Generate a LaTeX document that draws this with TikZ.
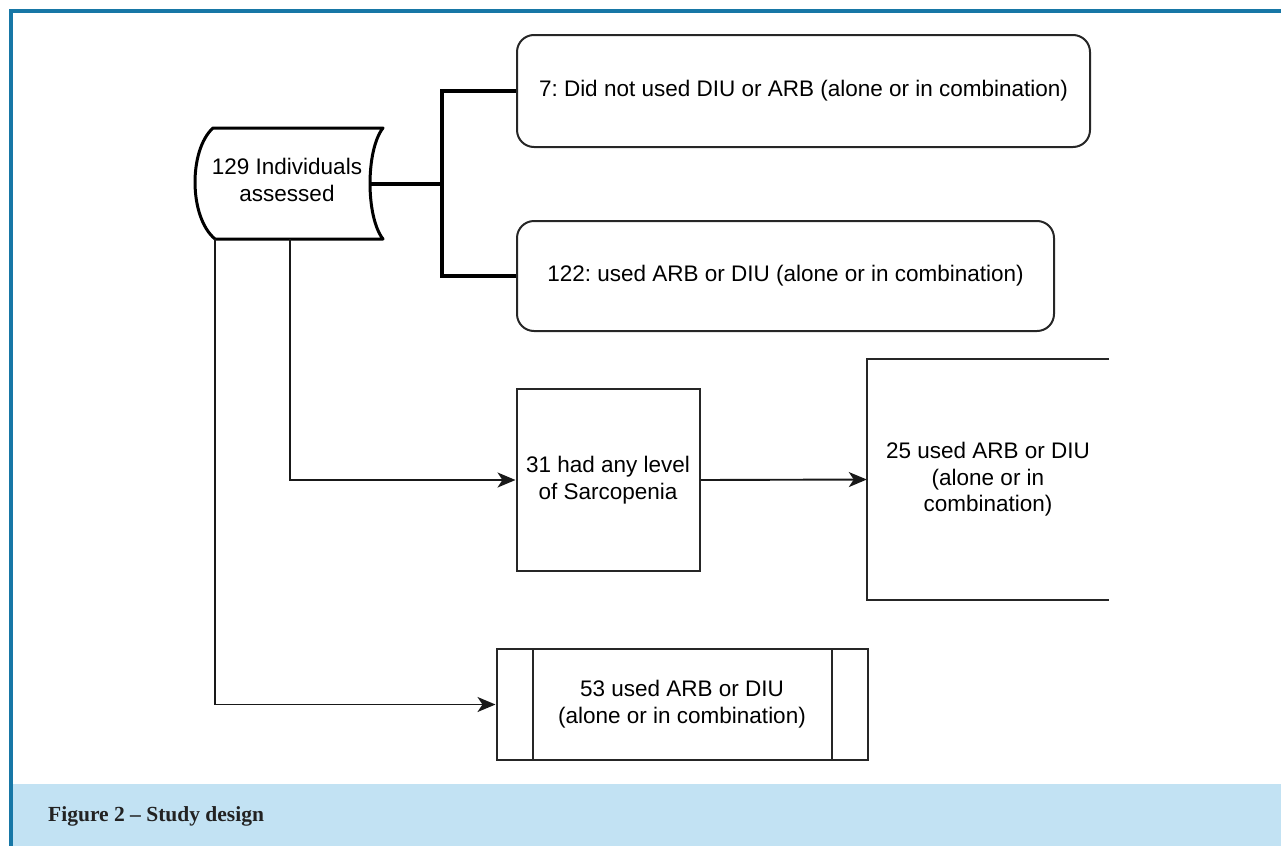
\documentclass[tikz,border=0pt]{standalone}
\usepackage{fontspec}
\setmainfont{Liberation Sans}
\newfontfamily\capfont{Liberation Serif}
\usetikzlibrary{arrows.meta,calc}
\definecolor{frameblue}{HTML}{1777A6}
\definecolor{capband}{HTML}{C2E2F3}
\definecolor{captext}{HTML}{222222}
\frenchspacing
\tikzset{
  box/.style={draw=black!85, line width=2pt, inner sep=0pt, align=center, font=\fontsize{22.5}{27}\selectfont},
  rbox/.style={box, rounded corners=17pt},
  lab/.style={inner sep=0pt, align=center, font=\fontsize{22.5}{26.5}\selectfont},
  link/.style={line width=3.2pt, black},
  conn/.style={line width=1.9pt, black!90, -{Stealth[length=18pt,width=15pt,inset=5pt]}},
}
\begin{document}
\begin{tikzpicture}[x=1pt,y=-1pt]
\useasboundingbox (0,0) rectangle (1281,846);
% frame and caption band
\fill[capband] (11,784) rectangle (1281,846);
\fill[frameblue] (9,9) rectangle (1281,12.5);
\fill[frameblue] (9,9) rectangle (12.5,846);
\node[anchor=base west, inner sep=0pt, text=captext, font=\capfont\bfseries\fontsize{21.5}{24}\selectfont] (cap) at (48,821) {Figure 2 – Study design};

% stored data shape
\coordinate (stl) at (213,128);
\coordinate (str) at (383,128);
\coordinate (sbr) at (383,239);
\coordinate (sbl) at (215,239);
\draw[line width=3pt, black, fill=white, line join=round]
  (stl) -- (str) .. controls (365.7,150) and (365.7,217) .. (sbr)
  -- (sbl) .. controls (188.7,217) and (188.7,150) .. (stl) -- cycle;
\node[lab] (s) at (287,180) {129 Individuals\\assessed};
\coordinate (sr) at (370,184);
\coordinate (sb1) at (215,239);
\coordinate (sb2) at (290,239);

% boxes
\node[rbox, minimum width=573pt, minimum height=112pt] (b1) at (803.5,91) {7: Did not used DIU or ARB (alone or in combination)};
\node[rbox, minimum width=537pt, minimum height=110pt] (b2) at (785.5,276) {122: used ARB or DIU (alone or in combination)};
\node[box, minimum width=183pt, minimum height=182pt] (b3) at (608,480) {31 had any level\\of Sarcopenia};
\node[lab, minimum width=242pt, minimum height=241pt] (b4) at (988,479.5) {25 used ARB or DIU\\(alone or in\\combination)};
\draw[draw=black!85, line width=2pt] (b4.north east) -- (b4.north west) -- (b4.south west) -- (b4.south east);
\node[box, minimum width=371pt, minimum height=111pt] (b5) at (682,704.5) {53 used ARB or DIU\\(alone or in combination)};
\draw[draw=black!85, line width=2pt] ($(b5.north west)+(37,0)$) -- ($(b5.south west)+(37,0)$);
\draw[draw=black!85, line width=2pt] ($(b5.north east)+(-37,0)$) -- ($(b5.south east)+(-37,0)$);

% connectors
\draw[link] (sr) -- (442,184) coordinate (j);
\draw[link] (b1.west) -| (j) |- (b2.west);
\draw[conn] (sb2) |- (b3.west);
\draw[conn] (b3.east) -- (b4.west);
\draw[conn] (sb1) |- (b5.west);
\end{tikzpicture}
\end{document}
